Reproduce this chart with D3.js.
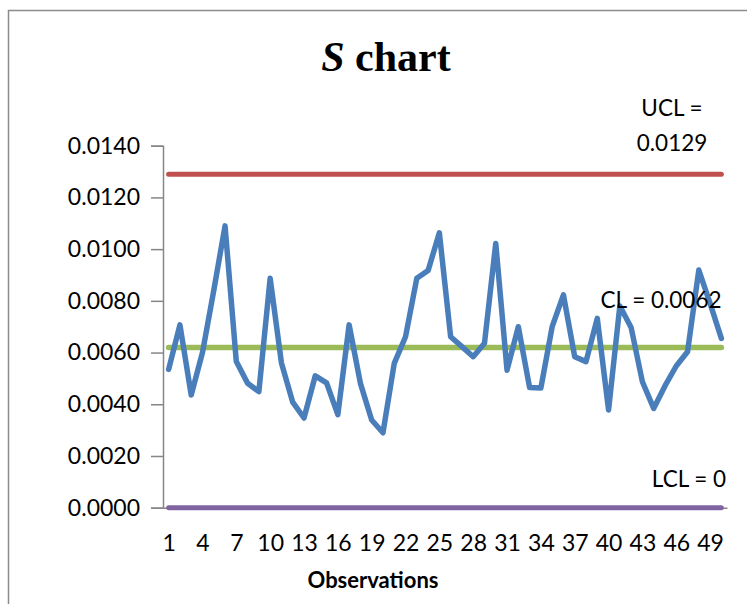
<!DOCTYPE html>
<html>
<head>
<meta charset="utf-8">
<script src="https://cdn.jsdelivr.net/npm/d3@7"></script>
<style>
  html, body { margin: 0; padding: 0; background: #fff; }
  svg { display: block; }
</style>
</head>
<body>
<svg id="chart" width="747" height="604"></svg>
<script>
// ---- data ----
const observations = d3.range(1, 51);
const sValues = [
  0.00535, 0.00707, 0.00436, 0.00600, 0.00840, 0.01090, 0.00565, 0.00481, 0.00449, 0.00887,
  0.00560, 0.00408, 0.00347, 0.00510, 0.00483, 0.00360, 0.00707, 0.00481, 0.00339, 0.00290,
  0.00558, 0.00661, 0.00887, 0.00917, 0.01063, 0.00661, 0.00623, 0.00584, 0.00636, 0.01022,
  0.00532, 0.00700, 0.00465, 0.00463, 0.00700, 0.00823, 0.00584, 0.00565, 0.00732, 0.00378,
  0.00780, 0.00697, 0.00487, 0.00384, 0.00471, 0.00548, 0.00603, 0.00919, 0.00790, 0.00655
];
const UCL = 0.0129;
const CL = 0.0062;
const LCL = 0;
const yTicks = [0, 0.002, 0.004, 0.006, 0.008, 0.010, 0.012, 0.014];
const xTickLabels = [1, 4, 7, 10, 13, 16, 19, 22, 25, 28, 31, 34, 37, 40, 43, 46, 49];

// ---- layout ----
const svg = d3.select("#chart");
const plotL = 163, plotR = 727, plotT = 145.7, plotB = 507.7;

// outer chart border
svg.append("rect")
  .attr("x", 8.5).attr("y", 10.5)
  .attr("width", 760).attr("height", 620)
  .attr("fill", "none").attr("stroke", "#8c8c8c").attr("stroke-width", 1.5);

const x = d3.scalePoint().domain(observations).range([plotL, plotR]).padding(0.5);
const y = d3.scaleLinear().domain([0, 0.014]).range([plotB, plotT]);

const font = "Lato, 'Open Sans', sans-serif";

// y axis
const yAxis = d3.axisLeft(y).tickValues(yTicks).tickSize(12).tickPadding(11)
  .tickFormat(d3.format(".4f"));
const gy = svg.append("g").attr("transform", `translate(${plotL},0)`).call(yAxis);
gy.select(".domain").attr("stroke", "#868686").attr("stroke-width", 1.5);
gy.selectAll(".tick line").attr("stroke", "#868686").attr("stroke-width", 1.5);
gy.selectAll(".tick text").attr("font-family", font).attr("font-size", 23).attr("fill", "#000");

// x axis
const xAxis = d3.axisBottom(x).tickValues(xTickLabels).tickSize(0).tickPadding(27);
const gx = svg.append("g").attr("transform", `translate(0,${plotB})`).call(xAxis);
gx.select(".domain").attr("stroke", "#868686").attr("stroke-width", 1.5);
gx.selectAll(".tick text").attr("font-family", font).attr("font-size", 23).attr("fill", "#000");

// control lines
const ctrl = [
  { v: UCL, color: "#C0504D", w: 5 },
  { v: CL, color: "#9BBB59", w: 5.5 },
  { v: LCL, color: "#8064A2", w: 5 }
];
const line = d3.line().x(d => x(d[0])).y(d => y(d[1]));
ctrl.forEach(c => {
  svg.append("path")
    .datum(observations.map(o => [o, c.v]))
    .attr("d", line)
    .attr("fill", "none")
    .attr("stroke", c.color)
    .attr("stroke-width", c.w)
    .attr("stroke-linecap", "round");
});

// S series
svg.append("path")
  .datum(observations.map((o, i) => [o, sValues[i]]))
  .attr("d", line)
  .attr("fill", "none")
  .attr("stroke", "#4A7EBB")
  .attr("stroke-width", 5.5)
  .attr("stroke-linejoin", "round")
  .attr("stroke-linecap", "round");

// labels
function label(txt, xx, yy, anchor) {
  svg.append("text").attr("x", xx).attr("y", yy)
    .attr("text-anchor", anchor || "middle")
    .attr("font-family", font).attr("font-size", 22.5).attr("fill", "#000")
    .text(txt);
}
label("UCL =", 672, 116);
label("0.0129", 672, 151);
label("CL = 0.0062", 661, 308);
label("LCL = 0", 689, 487);

// title
const title = svg.append("text").attr("x", 386).attr("y", 71)
  .attr("text-anchor", "middle")
  .attr("font-family", "'Liberation Serif', 'Times New Roman', serif")
  .attr("font-size", 42).attr("font-weight", "bold").attr("fill", "#000");
title.append("tspan").attr("font-style", "italic").text("S");
title.append("tspan").text(" chart");

// x axis title
svg.append("text").attr("x", 373).attr("y", 588)
  .attr("text-anchor", "middle")
  .attr("font-family", font).attr("font-size", 22).attr("font-weight", "bold").attr("fill", "#000")
  .text("Observations");
</script>
</body>
</html>
